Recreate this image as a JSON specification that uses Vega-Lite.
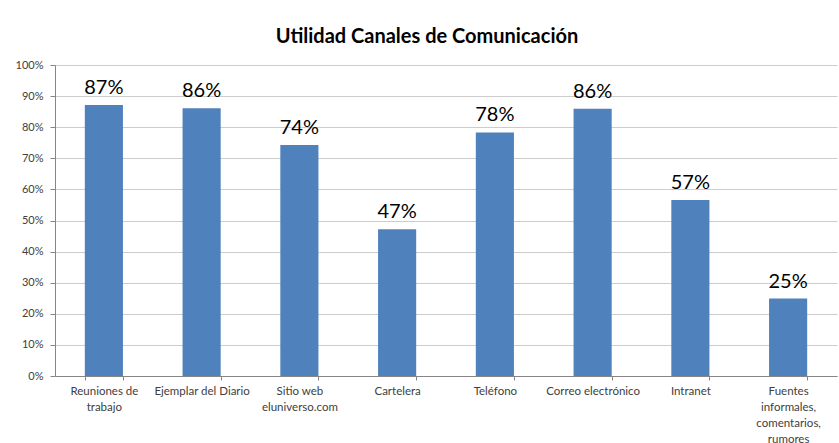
{
  "$schema": "https://vega.github.io/schema/vega-lite/v6.json",
  "width": 782,
  "height": 311,
  "autosize": {"type": "none"},
  "padding": {"left": 55, "top": 65, "right": 2, "bottom": 67},
  "background": "white",
  "title": {
    "text": "Utilidad Canales de Comunicación",
    "font": "Lato",
    "fontSize": 20,
    "fontWeight": "bold",
    "color": "#000000",
    "anchor": "middle",
    "dx": -19,
    "offset": 12
  },
  "data": {
    "values": [
      {"canal": "Reuniones de|trabajo", "valor": 0.871},
      {"canal": "Ejemplar del Diario", "valor": 0.861},
      {"canal": "Sitio web|eluniverso.com", "valor": 0.743},
      {"canal": "Cartelera", "valor": 0.472},
      {"canal": "Teléfono", "valor": 0.783},
      {"canal": "Correo electrónico", "valor": 0.859},
      {"canal": "Intranet", "valor": 0.566},
      {"canal": "Fuentes|informales,|comentarios,|rumores", "valor": 0.249}
    ]
  },
  "config": {
    "view": {"stroke": null},
    "font": "Lato"
  },
  "encoding": {
    "x": {
      "field": "canal",
      "type": "nominal",
      "sort": null,
      "scale": {"paddingInner": 0.61, "paddingOuter": 0.305},
      "axis": {
        "title": null,
        "labelAngle": 0,
        "labelExpr": "split(datum.label, '|')",
        "labelFont": "Lato",
        "labelFontSize": 11.5,
        "labelColor": "#404040",
        "labelLineHeight": 16,
        "labelPadding": 5,
        "tickBand": "extent",
        "tickSize": 4,
        "tickColor": "#868686",
        "domainColor": "#868686",
        "labelLimit": 200
      }
    },
    "y": {
      "field": "valor",
      "type": "quantitative",
      "scale": {"domain": [0, 1], "nice": false},
      "axis": {
        "title": null,
        "format": ".0%",
        "values": [0, 0.1, 0.2, 0.3, 0.4, 0.5, 0.6, 0.7, 0.8, 0.9, 1],
        "labelFont": "Lato",
        "labelFontSize": 11,
        "labelColor": "#404040",
        "labelPadding": 7,
        "tickSize": 5,
        "tickColor": "#868686",
        "domainColor": "#868686",
        "gridColor": "#CCCCCC",
        "gridWidth": 1
      }
    }
  },
  "layer": [
    {"mark": {"type": "bar", "color": "#4F81BD"}},
    {
      "mark": {"type": "text", "baseline": "alphabetic", "dy": -11, "fontSize": 20, "font": "Lato", "color": "#000000"},
      "encoding": {"text": {"field": "valor", "type": "quantitative", "format": ".0%"}}
    }
  ]
}
